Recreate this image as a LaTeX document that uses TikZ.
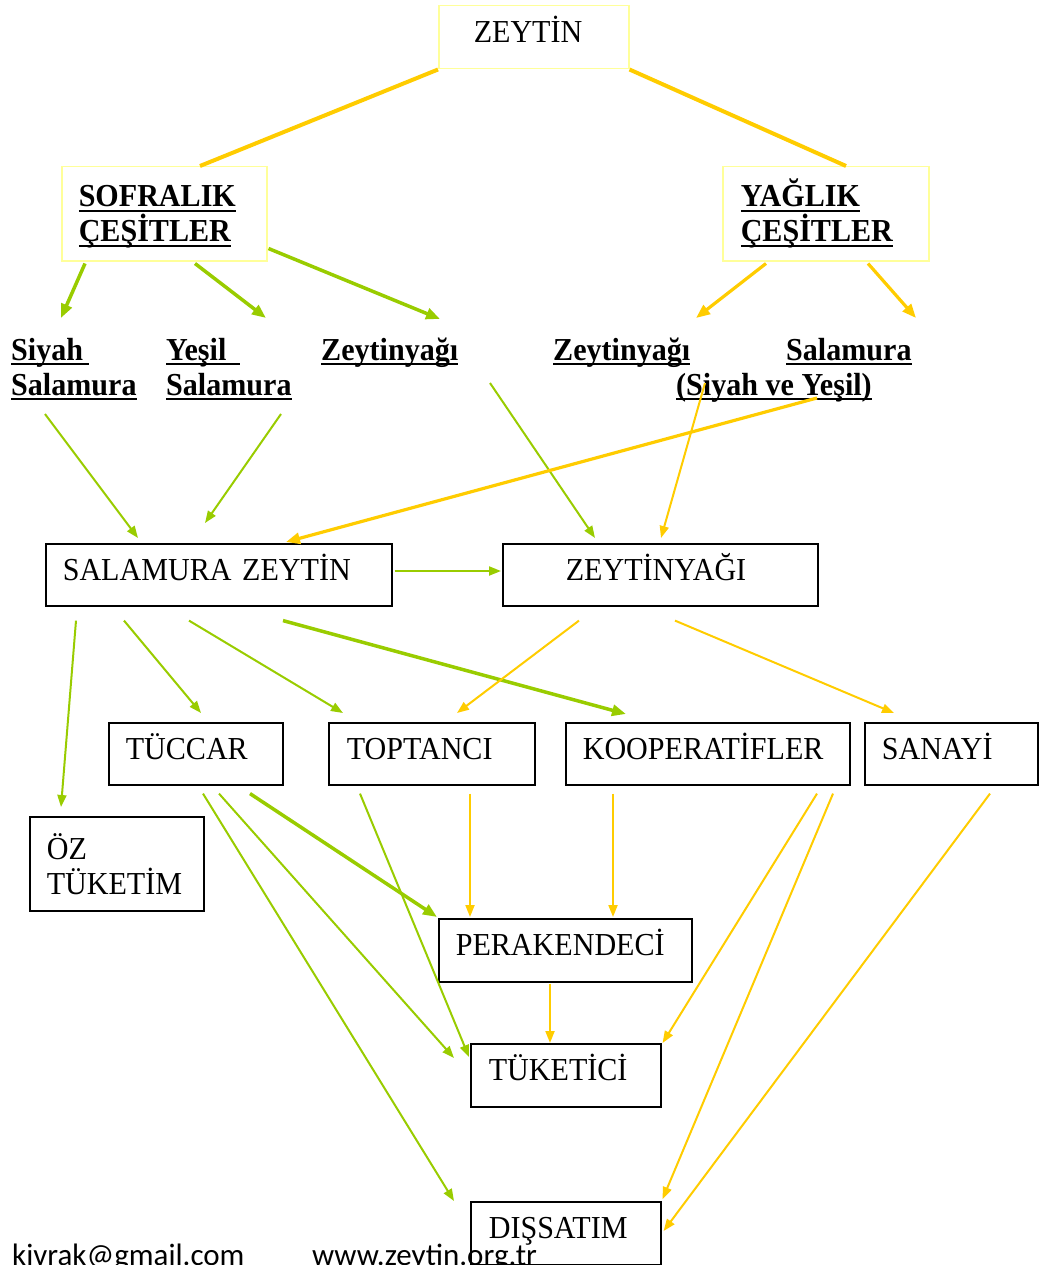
\documentclass[tikz,border=0pt]{standalone}
\usepackage{fontspec}
\setmainfont{Liberation Serif}[FakeStretch=0.94]
\newfontfamily\footfont{Carlito}
\newcommand\myul[1]{\leavevmode\setbox0\hbox{#1}\rlap{\vrule width\wd0 height -2.8pt depth 5.3pt}\box0}
\usetikzlibrary{arrows.meta,calc}
\definecolor{ogreen}{HTML}{99CC00}
\definecolor{oyellow}{HTML}{FFCC00}
\definecolor{pale}{HTML}{FFFF99}
\tikzset{
  pbox/.style={draw=pale, line width=1.5pt, anchor=north west, align=left, inner ysep=0pt, font=\fontsize{32}{35}\selectfont\bfseries},
  bbox/.style={draw=black, line width=1.6pt, anchor=north west, align=left, inner ysep=0pt, text height=21pt, text depth=10pt},
  mbox/.style={draw=black, line width=1.6pt, anchor=north west, align=left, inner ysep=0pt},
  lab/.style={anchor=base west, inner sep=0pt, font=\fontsize{32}{35}\selectfont\bfseries},
  ga/.style={draw=ogreen, line width=2pt, -{Triangle[length=12pt,width=9pt]}},
  gA/.style={draw=ogreen, line width=3.5pt, -{Triangle[length=14pt,width=11pt]}},
  ya/.style={draw=oyellow, line width=2pt, -{Triangle[length=12pt,width=9pt]}},
  yA/.style={draw=oyellow, line width=3.2pt, -{Triangle[length=14pt,width=11pt]}},
  yl/.style={draw=oyellow, line width=4pt},
  foot/.style={anchor=base west, inner sep=0pt, font=\footfont\fontsize{31}{35}\selectfont}
}
\begin{document}
\begin{tikzpicture}[x=1pt, y=-1pt, font=\fontsize{32}{35}\selectfont]
\useasboundingbox (0,0) rectangle (1038,1265);
% top boxes
\node[pbox, font=\fontsize{32}{35}\selectfont, text height=21pt, text depth=10pt, text width=120pt, inner xsep=35pt, minimum height=63pt] (z) at (438,5) {ZEYTİN};
\node[pbox, text width=171pt, inner xsep=17pt, minimum height=94pt] (sof) at (61,166) {\vphantom{Ğ}\myul{SOFRALIK}\\\myul{ÇEŞİTLER}};
\node[pbox, text width=170pt, inner xsep=18pt, minimum height=94pt] (yag) at (722,166) {\myul{YAĞLIK}\\\myul{ÇEŞİTLER}};
% labels
\node[lab] (l1a) at (11,360) {\myul{Siyah\kern6pt}};
\node[lab] (l1b) at (11,395) {\myul{Salamura}};
\node[lab] (l2a) at (166,360) {\myul{Yeşil\kern14pt}};
\node[lab] (l2b) at (166,395) {\myul{Salamura}};
\node[lab] (l3) at (321,360) {\myul{Zeytinyağı}};
\node[lab] (l4) at (553,360) {\myul{Zeytinyağı}};
\node[lab] (l5a) at (786,360) {\myul{Salamura}};
\node[lab] (l5b) at (676,395) {\myul{(Siyah ve Yeşil)}};
% middle boxes
\node[bbox, text width=312pt, inner xsep=17pt, minimum height=62pt] (sz) at (45,543) {SALAMURA ZEYTİN};
\node[bbox, text width=189pt, inner xsep=63pt, minimum height=62pt] (zy) at (502,543) {ZEYTİNYAĞI};
\node[bbox, text width=140pt, inner xsep=17pt, minimum height=62pt] (tc) at (108,722) {TÜCCAR};
\node[bbox, text width=170pt, inner xsep=18pt, minimum height=62pt] (tp) at (328,722) {TOPTANCI};
\node[bbox, text width=250pt, inner xsep=17pt, minimum height=62pt] (kp) at (565,722) {KOOPERATİFLER};
\node[bbox, text width=139pt, inner xsep=17pt, minimum height=62pt] (sn) at (864,722) {SANAYİ};
\node[mbox, text width=140pt, inner xsep=17pt, minimum height=94pt] (oz) at (29,816) {ÖZ\\TÜKETİM};
\node[bbox, text width=219pt, inner xsep=17pt, minimum height=63pt] (pk) at (438,918) {PERAKENDECİ};
\node[bbox, text width=154pt, inner xsep=18pt, minimum height=63pt] (tk) at (470,1043) {TÜKETİCİ};
\node[bbox, text width=154pt, inner xsep=18pt, minimum height=63pt] (ds) at (470,1201) {DIŞSATIM};
% top connectors
\draw[yl] (z.south west) -- ($(sof.north west)+(139,0)$);
\draw[yl] (z.south east) -- ($(yag.north west)+(124,0)$);
\draw[gA] ($(sof.south west)+(24,2)$) -- ($(l1a.base west)+(50,-42)$);
\draw[gA] ($(sof.south west)+(134,2)$) -- ($(l2a.base west)+(100,-42)$);
\draw[gA] ($(sof.south east)+(1,-13)$) -- ($(l3.base west)+(119,-41)$);
\draw[yA] ($(yag.south west)+(44,2)$) -- ($(l4.base west)+(143,-42)$);
\draw[yA] ($(yag.south west)+(146,2)$) -- ($(l5a.base west)+(130,-42)$);
% labels to middle
\draw[ga] ($(l1b.base west)+(34,19)$) -- ($(sz.north west)+(93,-5)$);
\draw[ga] ($(l2b.base west)+(115,19)$) -- ($(sz.north west)+(160,-20)$);
\draw[ga] ($(l3.base west)+(169,23)$) -- ($(zy.north west)+(93,-5)$);
\draw[ya] ($(l5b.base west)+(29,-12)$) -- ($(zy.north west)+(159,-5)$);
\draw[yA] ($(l5b.base west)+(141,3)$) -- ($(sz.north west)+(241,-1)$);
\draw[ga] ($(sz.north east)+(2,28)$) -- ($(zy.north west)+(-1,28)$);
% middle to lower
\draw[ga] ($(sz.south west)+(31,14)$) -- ($(oz.north west)+(32,-9)$);
\draw[ga] ($(sz.south west)+(79,14)$) -- ($(tc.north west)+(93,-9)$);
\draw[ga] ($(sz.south west)+(144,14)$) -- ($(tp.north west)+(15,-9)$);
\draw[gA] ($(sz.south west)+(238,14)$) -- ($(kp.north west)+(61,-8)$);
\draw[ya] ($(zy.south west)+(77,14)$) -- ($(tp.north west)+(129,-9)$);
\draw[ya] ($(zy.south west)+(173,14)$) -- ($(sn.north west)+(30,-9)$);
% bottom
\draw[ga] ($(tc.south west)+(95,8)$) -- ($(ds.north west)+(-16,0)$);
\draw[ga] ($(tc.south west)+(111,8)$) -- ($(tk.north west)+(-16,15)$);
\draw[gA] ($(tc.south west)+(142,8)$) -- ($(pk.north west)+(-1,-1)$);
\draw[ga] ($(tp.south west)+(32,8)$) -- ($(tk.north west)+(-1,14)$);
\draw[ya] ($(tp.south west)+(142,8)$) -- ($(pk.north west)+(32,-1)$);
\draw[ya] ($(kp.south west)+(48,8)$) -- ($(pk.north west)+(175,-1)$);
\draw[ya] ($(kp.south west)+(252,8)$) -- ($(tk.north east)+(1,0)$);
\draw[ya] ($(kp.south west)+(268,8)$) -- ($(ds.north east)+(1,-2)$);
\draw[ya] ($(sn.south west)+(126,8)$) -- ($(ds.north east)+(2,30)$);
\draw[ya] ($(pk.south west)+(112,1)$) -- ($(tk.north west)+(80,0)$);
% footer
\node[foot] (mail) at (12,1265) {kivrak@gmail.com};
\node[foot] (web) at (312,1265) {www.zeytin.org.tr};
\end{tikzpicture}
\end{document}
